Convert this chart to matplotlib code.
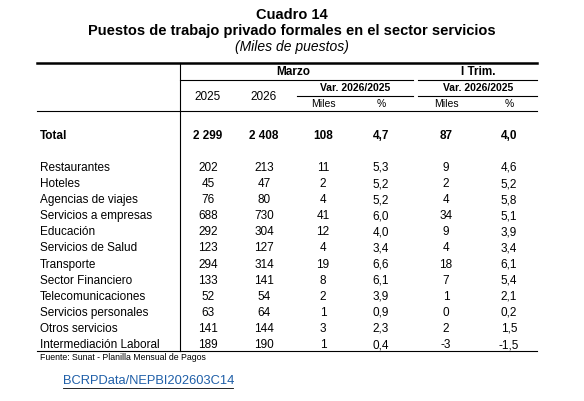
import matplotlib
matplotlib.use("Agg")
import matplotlib.pyplot as plt
from matplotlib.lines import Line2D

categories = ["Restaurantes", "Hoteles", "Agencias de viajes", "Servicios a empresas", "Educación",
              "Servicios de Salud", "Transporte", "Sector Financiero", "Telecomunicaciones",
              "Servicios personales", "Otros servicios", "Intermediación Laboral"]
mar_2025 = ["202", "45", "76", "688", "292", "123", "294", "133", "52", "63", "141", "189"]
mar_2026 = ["213", "47", "80", "730", "304", "127", "314", "141", "54", "64", "144", "190"]
mar_miles = ["11", "2", "4", "41", "12", "4", "19", "8", "2", "1", "3", "1"]
mar_pct = ["5,3", "5,2", "5,2", "6,0", "4,0", "3,4", "6,6", "6,1", "3,9", "0,9", "2,3", "0,4"]
tri_miles = ["9", "2", "4", "34", "9", "4", "18", "7", "1", "0", "2", "-3"]
tri_pct = ["4,6", "5,2", "5,8", "5,1", "3,9", "3,4", "6,1", "5,4", "2,1", "0,2", "1,5", "-1,5"]
total = ["2 299", "2 408", "108", "4,7", "87", "4,0"]

W, H = 584, 401
fig = plt.figure(figsize=(W/100, H/100), dpi=100)
plt.rcParams['font.family'] = ['Liberation Sans', 'DejaVu Sans']

def T(x, y, s, **kw):
    fig.text(x/W, 1 - y/H, s, va='center', **kw)

def L(x0, x1, y, lw=0.8):
    fig.add_artist(Line2D([x0/W, x1/W], [1-y/H, 1-y/H], color='black', lw=lw))

T(292, 15, "Cuadro 14", ha='center', fontsize=10.5, fontweight='bold')
T(292, 31, "Puestos de trabajo privado formales en el sector servicios", ha='center', fontsize=10.5, fontweight='bold')
T(292, 47, "(Miles de puestos)", ha='center', fontsize=10, style='italic')

L(37, 537, 63, lw=1.8)
L(180, 413, 80); L(418, 537, 80)
L(297, 413, 96); L(418, 537, 96)
L(37, 537, 111)
L(37, 537, 351)
fig.add_artist(Line2D([180/W, 180/W], [1-63/H, 1-351/H], color='black', lw=0.8))

T(293, 72, "Marzo", ha='center', fontsize=8.5, fontweight='bold')
T(478, 72, "I Trim.", ha='center', fontsize=8.5, fontweight='bold')
T(355, 88, "Var. 2026/2025", ha='center', fontsize=7.5, fontweight='bold')
T(478, 88, "Var. 2026/2025", ha='center', fontsize=7.5, fontweight='bold')
cols = [208, 264, 323, 381, 446, 509]
T(cols[0], 97, "2025", ha='center', fontsize=8.5)
T(cols[1], 97, "2026", ha='center', fontsize=8.5)
for x, s in zip(cols[2:], ["Miles", "%", "Miles", "%"]):
    T(x, 104, s, ha='center', fontsize=7.5)

T(40, 136, "Total", fontsize=8.5, fontweight='bold')
for x, s in zip(cols, total):
    T(x, 136, s, ha='center', fontsize=8.5, fontweight='bold')

step = (345 - 168) / 11
for i, cat in enumerate(categories):
    y = 168 + i * step
    T(40, y, cat, fontsize=8.5)
    for x, arr in zip(cols, [mar_2025, mar_2026, mar_miles, mar_pct, tri_miles, tri_pct]):
        T(x, y, arr[i], ha='center', fontsize=8.5)

T(40, 358, "Fuente: Sunat - Planilla Mensual de Pagos", fontsize=6.3)
fig.text(63/W, 1-381/H, "BCRPData/NEPBI202603C14", va='center', fontsize=9.3, color='#1f5fa8')
L(63, 233, 388, lw=0.6)
fig.savefig("out.png", dpi=100, facecolor='white')
